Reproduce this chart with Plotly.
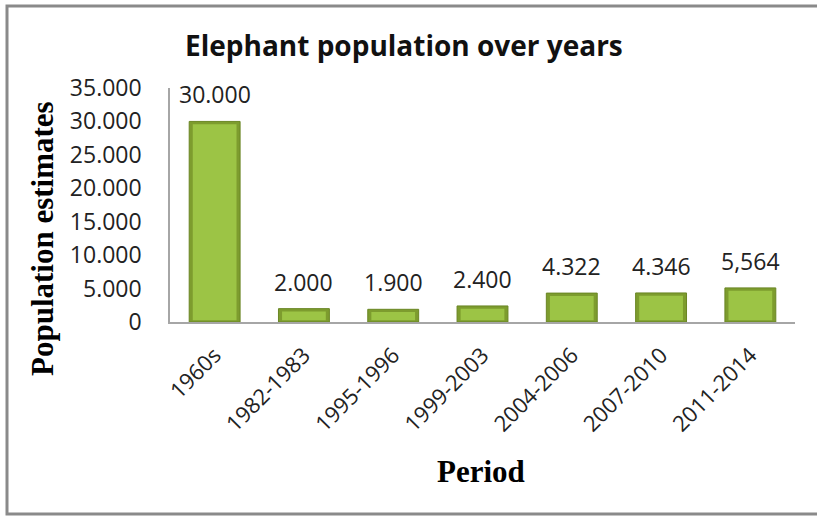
import plotly.graph_objects as go

periods = ["1960s", "1982-1983", "1995-1996", "1999-2003", "2004-2006", "2007-2010", "2011-2014"]
population = [30000, 2000, 1900, 2400, 4322, 4346, 5100]
value_labels = ["30.000", "2.000", "1.900", "2.400", "4.322", "4.346", "5,564"]
y_tick_values = [0, 5000, 10000, 15000, 20000, 25000, 30000, 35000]
y_tick_labels = ["0", "5.000", "10.000", "15.000", "20.000", "25.000", "30.000", "35.000"]

W, H = 817, 516
L, R, T, B = 170, 22, 88, 194
pw, ph = W - L - R, H - T - B

def px(x):
    return (x - L) / pw

def py(y):
    return (H - B - y) / ph

# bevel insets in data units (style only)
top_inset = 420
bottom_inset = 280

fig = go.Figure()
fig.add_trace(go.Bar(
    x=periods, y=population,
    marker=dict(color="#7d9c2e", line=dict(color="#6a8624", width=1)),
    width=0.57, hoverinfo="skip",
))
fig.add_trace(go.Bar(
    x=periods, y=[v - top_inset - bottom_inset for v in population], base=bottom_inset,
    marker=dict(color="#9cc445", line=dict(width=0)),
    width=0.49, hoverinfo="skip",
))

annotations = []
for p, v, t in zip(periods, population, value_labels):
    annotations.append(dict(x=p, y=v, xref="x", yref="y", text=t, showarrow=False,
                            yanchor="bottom", yshift=9,
                            font=dict(family="Open Sans", size=23, color="#222222")))

annotations.append(dict(x=px(404), y=py(45), xref="paper", yref="paper",
                        text="<b>Elephant population over years</b>", showarrow=False,
                        xanchor="center", yanchor="middle",
                        font=dict(family="Open Sans", size=28, color="#111111")))
annotations.append(dict(x=px(43), y=py(239), xref="paper", yref="paper",
                        text="<b>Population estimates</b>", showarrow=False, textangle=-90,
                        xanchor="center", yanchor="middle",
                        font=dict(family="Liberation Serif", size=31, color="#000000")))
annotations.append(dict(x=px(481), y=py(471), xref="paper", yref="paper",
                        text="<b>Period</b>", showarrow=False,
                        xanchor="center", yanchor="middle",
                        font=dict(family="Liberation Serif", size=31, color="#000000")))

x0, x1, y0, y1 = px(7), px(840), py(514), py(6)
fig.update_layout(
    width=W, height=H,
    margin=dict(l=L, r=R, t=T, b=B),
    paper_bgcolor="white", plot_bgcolor="white",
    showlegend=False,
    barmode="overlay",
    annotations=annotations,
    shapes=[dict(type="path", xref="paper", yref="paper",
                 path=f"M {x1},{y1} L {x0},{y1} L {x0},{y0} L {x1},{y0}",
                 line=dict(color="#8a8a8a", width=3), layer="below")],
)
fig.update_xaxes(
    type="category", tickangle=-45, showline=True, linecolor="#a6a6a6", linewidth=1.5,
    showgrid=False, ticks="", ticklabelstandoff=10,
    tickfont=dict(family="Open Sans", size=22, color="#222222"),
)
fig.update_yaxes(
    range=[0, 35000], tickvals=y_tick_values, ticktext=y_tick_labels,
    showline=True, linecolor="#a6a6a6", linewidth=1.5, showgrid=False, zeroline=False,
    ticks="", ticklabelstandoff=22,
    tickfont=dict(family="Open Sans", size=23, color="#222222"),
)

fig.write_html("out.html")
